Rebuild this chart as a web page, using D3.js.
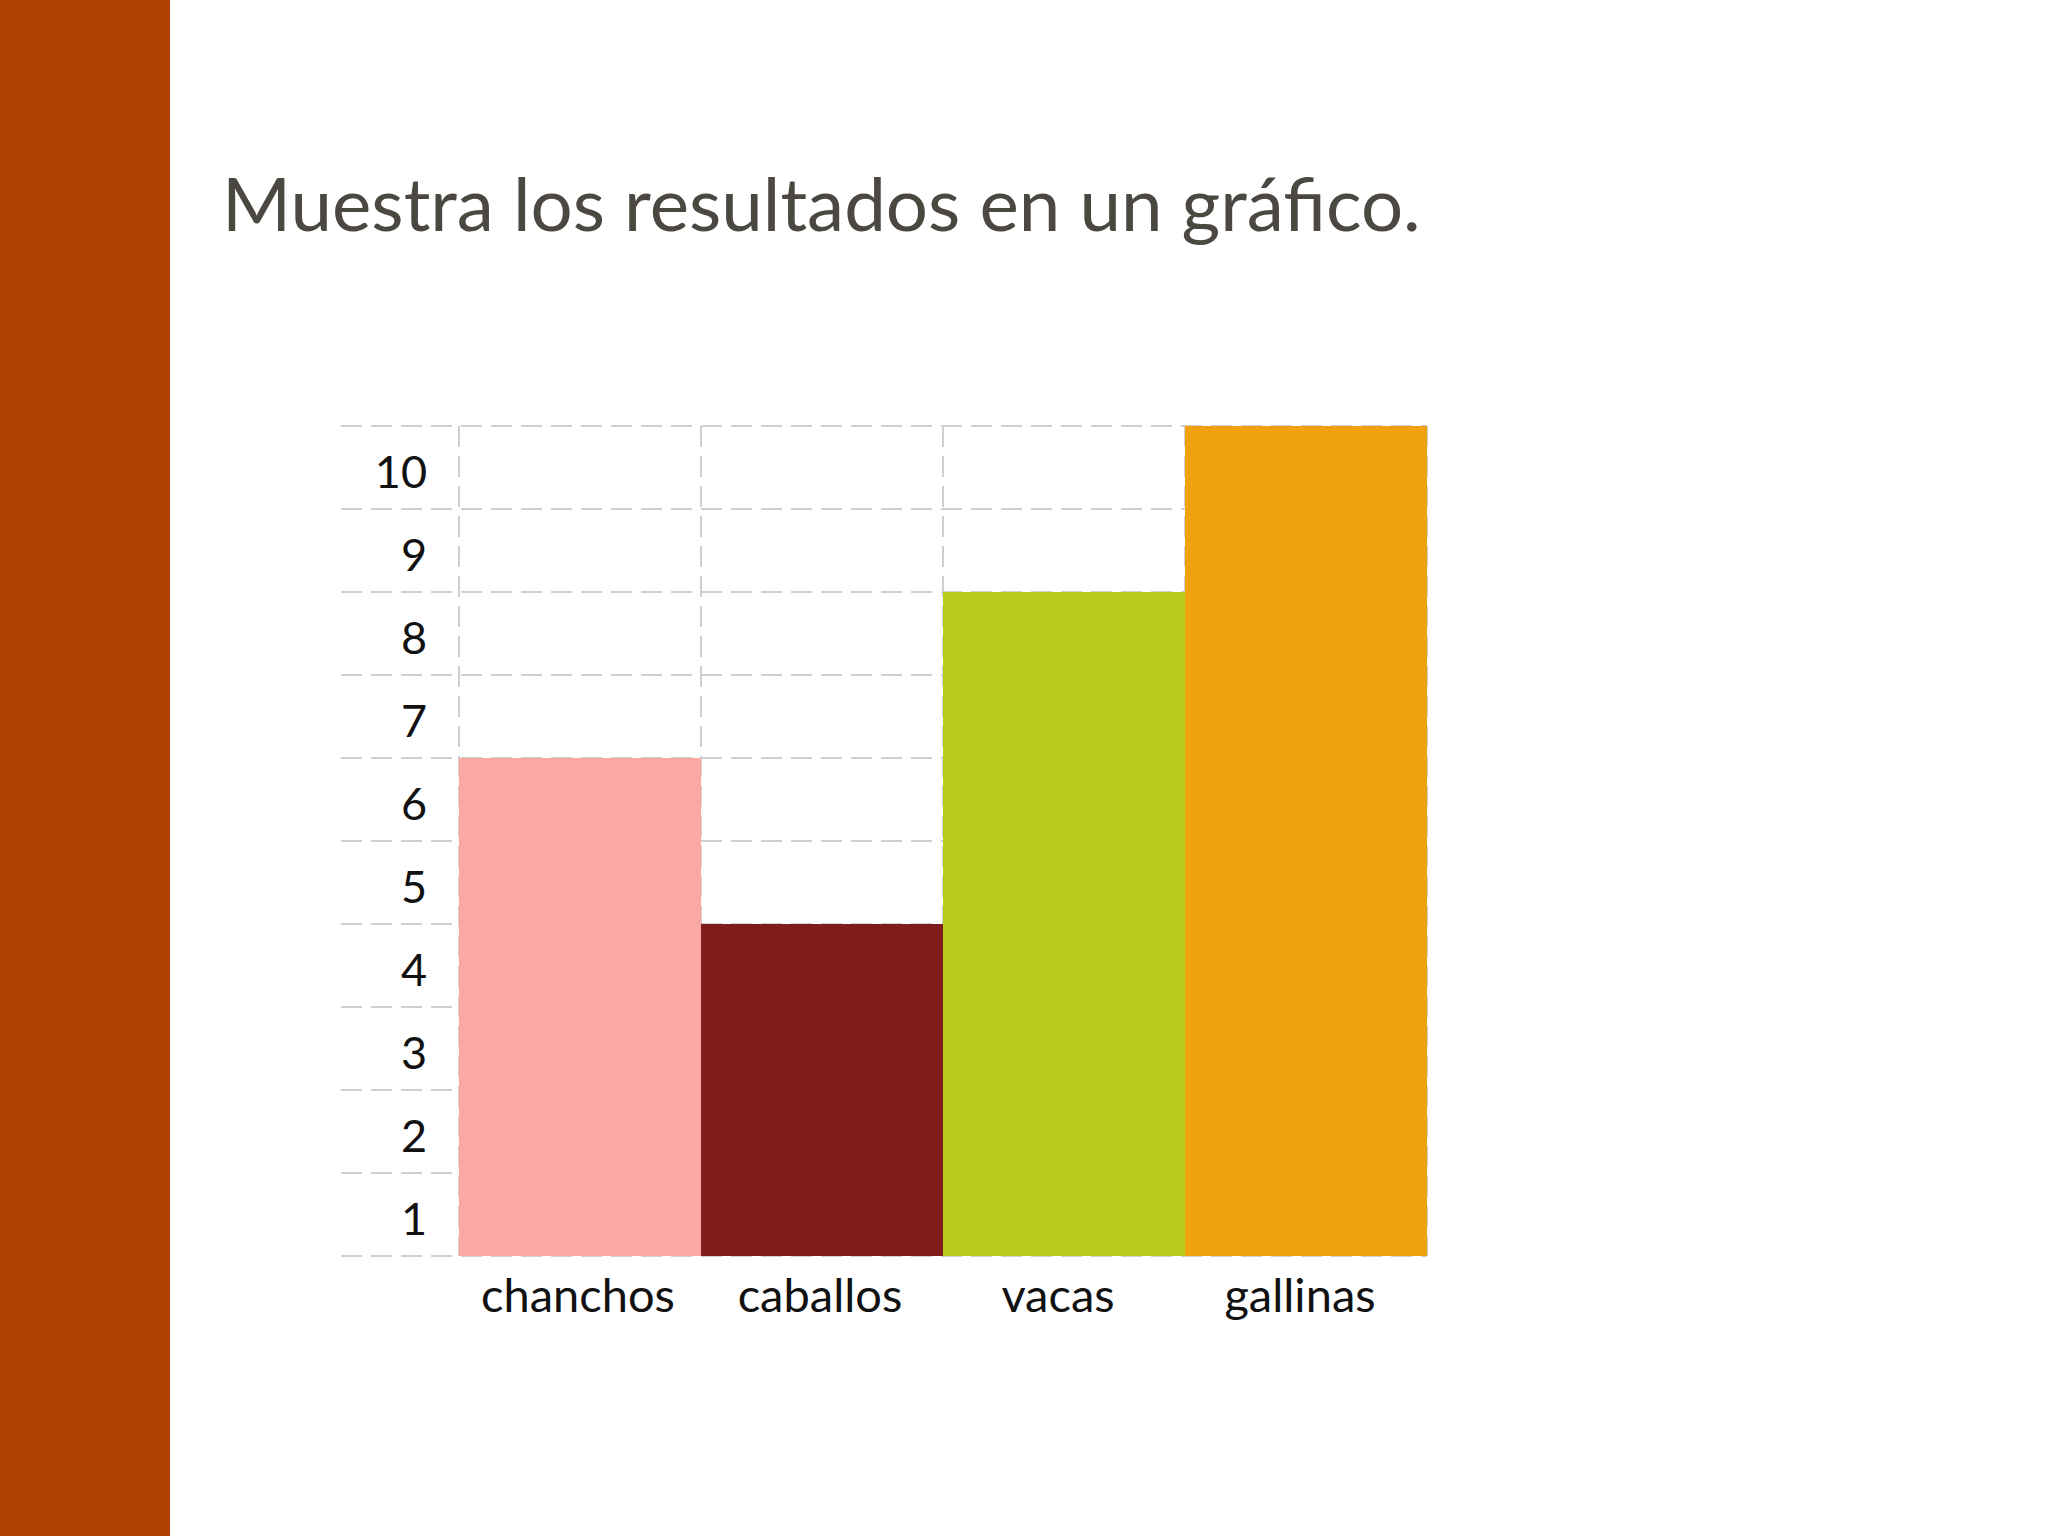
<!DOCTYPE html>
<html><head><meta charset="utf-8">
<script src="https://cdn.jsdelivr.net/npm/d3@7"></script>
<style>html,body{margin:0;padding:0;background:#fff;}</style>
</head><body>
<script>
const categories = ["chanchos", "caballos", "vacas", "gallinas"];
const values = [6, 4, 8, 10];
const colors = ["#faa8a4", "#7f1d1a", "#b9cb1c", "#f0a110"];
const tickLabels = [1, 2, 3, 4, 5, 6, 7, 8, 9, 10];
const title = "Muestra los resultados en un gráfico.";

const W = 2048, H = 1536;
const svg = d3.select("body").append("svg").attr("width", W).attr("height", H);

svg.append("rect").attr("x", 0).attr("y", 0).attr("width", 170).attr("height", H).attr("fill", "#b03f04");

svg.append("text").attr("x", 222).attr("y", 231)
  .attr("font-family", "Lato").attr("font-size", 74.5).attr("fill", "#4b4842")
  .text(title);

const gridLeft = 341;
const x = d3.scaleBand().domain(categories).range([459, 1427]).padding(0);
const y = d3.scaleLinear().domain([0, 10]).range([1256, 426]);

const grid = svg.append("g").attr("stroke", "#cfcfcf").attr("stroke-width", 2).attr("stroke-dasharray", "21,9");
grid.selectAll("line.h").data(d3.range(0, 11)).join("line").attr("class", "h")
  .attr("x1", gridLeft).attr("x2", x.range()[1])
  .attr("y1", d => y(d)).attr("y2", d => y(d));
grid.selectAll("line.v").data(categories.concat(["end"])).join("line").attr("class", "v")
  .attr("x1", (d, i) => i < categories.length ? x(d) : x.range()[1])
  .attr("x2", (d, i) => i < categories.length ? x(d) : x.range()[1])
  .attr("y1", y(10)).attr("y2", y(0));

svg.selectAll("rect.bar").data(categories).join("rect").attr("class", "bar")
  .attr("x", d => x(d)).attr("width", x.bandwidth())
  .attr("y", (d, i) => y(values[i])).attr("height", (d, i) => y(0) - y(values[i]))
  .attr("fill", (d, i) => colors[i]);

svg.selectAll("text.ytick").data(tickLabels).join("text").attr("class", "ytick")
  .attr("x", 427).attr("y", d => (y(d) + y(d - 1)) / 2 + 4)
  .attr("dy", "0.36em").attr("text-anchor", "end")
  .attr("font-family", "Lato").attr("font-size", 45).attr("fill", "#111")
  .text(d => d);

svg.selectAll("text.xcat").data(categories).join("text").attr("class", "xcat")
  .attr("x", (d, i) => x(d) + x.bandwidth() / 2 - (i >= 2 ? 6 : 2)).attr("y", 1312)
  .attr("text-anchor", "middle")
  .attr("font-family", "Lato").attr("font-size", 47).attr("fill", "#111")
  .text(d => d);
</script>
</body></html>
